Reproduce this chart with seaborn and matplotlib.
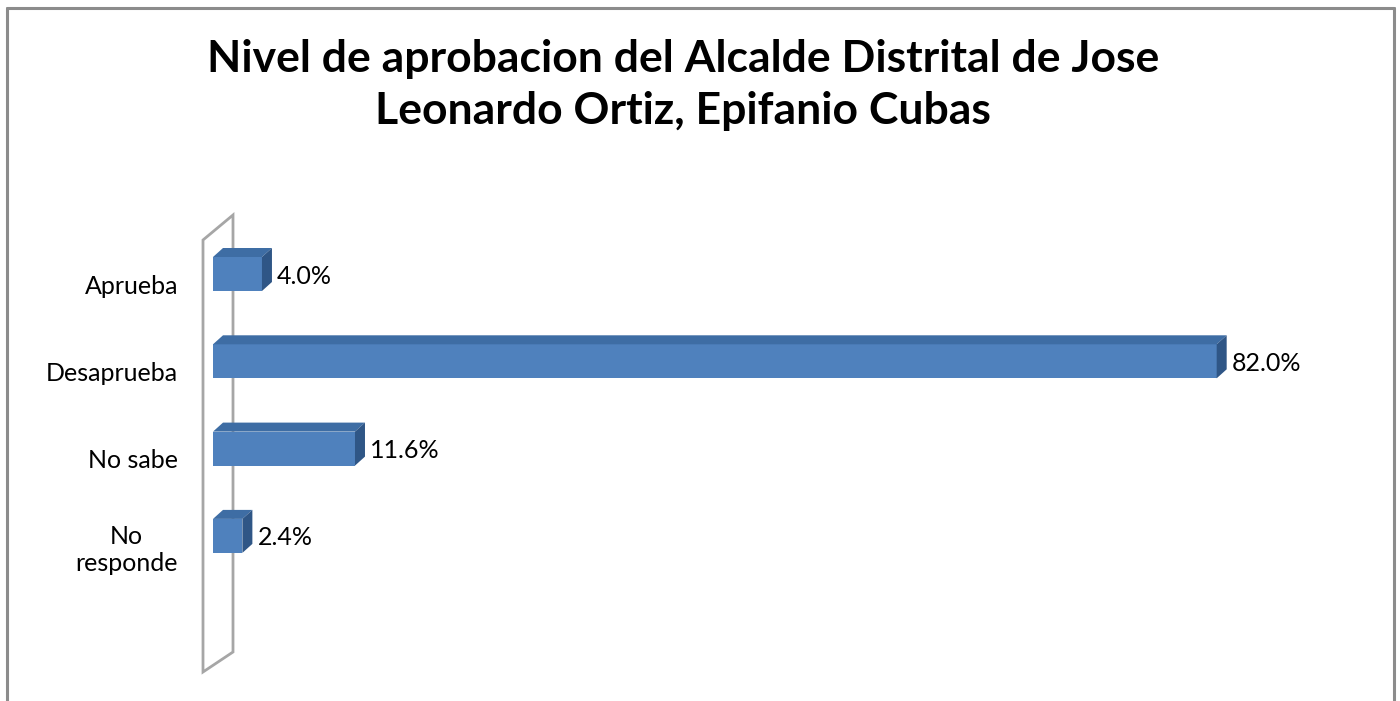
import numpy as np
import pandas as pd
import matplotlib.pyplot as plt
import seaborn as sns
from matplotlib.patches import Polygon
from matplotlib.lines import Line2D
from matplotlib.transforms import ScaledTranslation

# data
categories = ['Aprueba', 'Desaprueba', 'No sabe', 'No\nresponde']
values = [4.0, 82.0, 11.6, 2.4]
title = 'Nivel de aprobacion del Alcalde Distrital de Jose\nLeonardo Ortiz, Epifanio Cubas'

FRONT = '#4F81BD'
TOP = '#3E6DA4'
SIDE = '#2F5686'
WALL = '#A6A6A6'

sns.set_style('white')
plt.rcParams['font.family'] = ['Lato', 'DejaVu Sans']
plt.rcParams['text.color'] = 'black'
plt.rcParams['ytick.color'] = 'black'

W, H = 1400, 701
fig = plt.figure(figsize=(W / 100, H / 100), dpi=100)

# axes placed in pixel terms (left edge = front of the wall)
ax_l, ax_r, ax_t, ax_b = 203, 1380, 215, 672
ax = fig.add_axes([ax_l / W, 1 - ax_b / H, (ax_r - ax_l) / W, (ax_b - ax_t) / H])

px_per_pct = 12.24
px_per_cat = 87.3
x0 = -10 / px_per_pct
ax.set_xlim(x0, x0 + (ax_r - ax_l) / px_per_pct)
y_top = (ax_t - 274) / px_per_cat
y_bot = (ax_b - 274) / px_per_cat

df = pd.DataFrame({'cat': categories, 'val': values})
bar_h = 34 / px_per_cat
sns.barplot(data=df, x='val', y='cat', orient='h', color=FRONT, width=bar_h,
            linewidth=0, saturation=1, ax=ax, zorder=3)
ax.set_ylim(y_bot, y_top)

# 3D depth of the bars
dx = 10 / px_per_pct
dy = -9 / px_per_cat
for p in list(ax.patches):
    x, y, w, h = p.get_x(), p.get_y(), p.get_width(), p.get_height()
    yt, yb = y, y + h
    top = Polygon([(x, yt), (x + w, yt), (x + w + dx, yt + dy), (x + dx, yt + dy)],
                  closed=True, facecolor=TOP, edgecolor='none', zorder=3)
    side = Polygon([(x + w, yt), (x + w + dx, yt + dy), (x + w + dx, yb + dy), (x + w, yb)],
                   closed=True, facecolor=SIDE, edgecolor='none', zorder=3)
    ax.add_patch(top)
    ax.add_patch(side)
    ax.annotate(f'{w:.1f}%', xy=(x + w, y + h / 2), xytext=(15, -2),
                textcoords='offset pixels', ha='left', va='center',
                fontsize=18, color='black', zorder=4)

# the thin side wall
wx2 = x0 + 30 / px_per_pct
wall = Polygon([(x0, (240 - 274) / px_per_cat), (wx2, y_top),
                (wx2, (652 - 274) / px_per_cat), (x0, y_bot)],
               closed=True, fill=False, edgecolor=WALL, linewidth=2,
               clip_on=False, zorder=1)
ax.add_patch(wall)

for s in ax.spines.values():
    s.set_visible(False)
ax.set_xticks([])
ax.set_xlabel('')
ax.set_ylabel('')
ax.tick_params(axis='y', length=0, pad=18, labelsize=18, labelcolor='black')
shift = ScaledTranslation(0, -10 / 100, fig.dpi_scale_trans)
for lab in ax.get_yticklabels():
    lab.set_multialignment('center')
    lab.set_transform(lab.get_transform() + shift)

fig.text(683 / W, 1 - 85 / H, title, ha='center', va='center',
         fontsize=32, fontweight='bold', linespacing=1.39, color='black')

# chart area border (bottom edge falls outside the image)
bc = '#8C8C8C'
for xs, ys in [([7, 7], [H + 5, 7.5]), ([7, 1393.5], [7.5, 7.5]), ([1393.5, 1393.5], [7.5, H + 5])]:
    fig.add_artist(Line2D([x / W for x in xs], [1 - y / H for y in ys],
                          color=bc, linewidth=2.2))

fig.savefig('out.png', dpi=100)
